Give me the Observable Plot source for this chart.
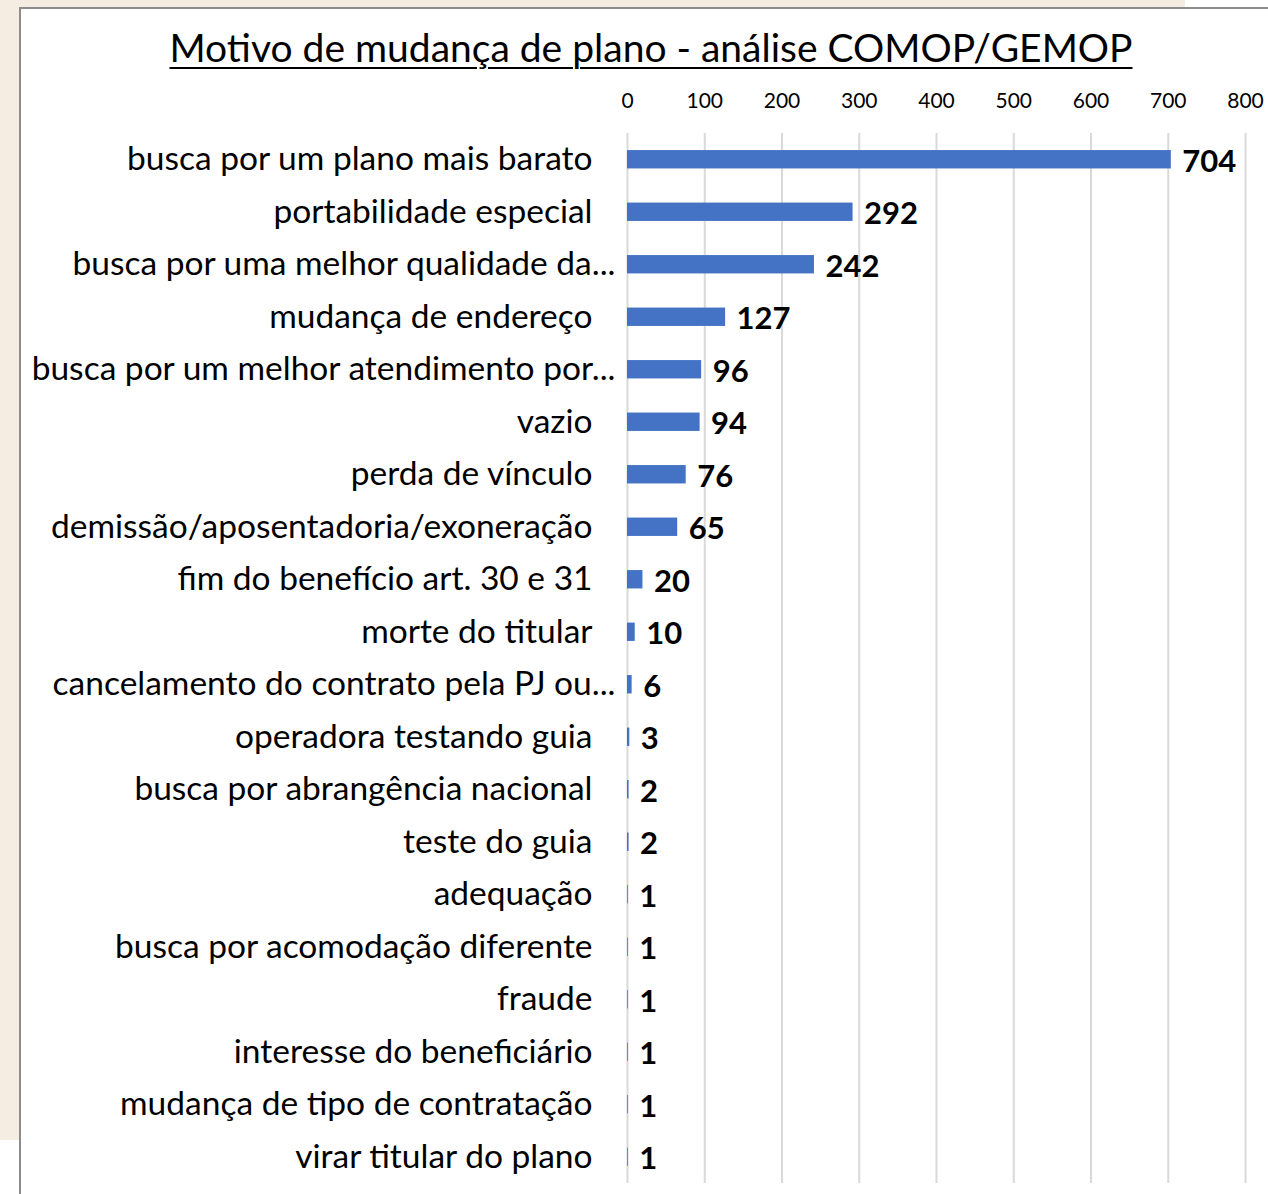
<!DOCTYPE html>
<html><head><meta charset="utf-8">
<script src="https://cdn.jsdelivr.net/npm/d3@7"></script>
<script src="https://cdn.jsdelivr.net/npm/@observablehq/plot@0.6"></script>
<style>
html,body{margin:0;padding:0;background:#fff;width:1268px;height:1194px;overflow:hidden;font-family:Lato,"Open Sans",sans-serif;}
#beige{position:absolute;left:0;top:0;width:1185px;height:1140px;background:#f5ede1;}
#box{position:absolute;left:19px;top:7px;width:1249px;height:1187px;background:#fff;border-left:2px solid #8c8c8c;border-top:2px solid #8c8c8c;}
#title{position:absolute;left:0;width:1260px;top:15px;text-align:center;font-size:39px;line-height:46px;text-decoration:underline;text-decoration-thickness:2px;text-underline-offset:5px;color:#000;}
#chart{position:absolute;left:0;top:0;line-height:0;}
#chart svg{display:block;}
</style></head>
<body>
<div id="beige"></div>
<div id="box"><div id="title">Motivo de mudança de plano - análise COMOP/GEMOP</div><div id="chart"></div></div>
<script>
const categories = [
  "busca por um plano mais barato",
  "portabilidade especial",
  "busca por uma melhor qualidade da...",
  "mudança de endereço",
  "busca por um melhor atendimento por...",
  "vazio",
  "perda de vínculo",
  "demissão/aposentadoria/exoneração",
  "fim do benefício art. 30 e 31",
  "morte do titular",
  "cancelamento do contrato pela PJ ou...",
  "operadora testando guia",
  "busca por abrangência nacional",
  "teste do guia",
  "adequação",
  "busca por acomodação diferente",
  "fraude",
  "interesse do beneficiário",
  "mudança de tipo de contratação",
  "virar titular do plano"
];
const values = [704, 292, 242, 127, 96, 94, 76, 65, 20, 10, 6, 3, 2, 2, 1, 1, 1, 1, 1, 1];
const xTicks = [0, 100, 200, 300, 400, 500, 600, 700, 800];

const data = categories.map((c, i) => ({category: c, value: values[i]}));

const chart = Plot.plot({
  width: 1247,
  height: 1185,
  marginLeft: 606,
  marginRight: 23,
  marginTop: 124,
  marginBottom: 11,
  style: {fontFamily: "Lato, 'Open Sans', sans-serif", color: "#000", background: "transparent"},
  x: {domain: [0, 800]},
  y: {domain: categories, paddingInner: 0.65, paddingOuter: 0.325, round: false, axis: null},
  marks: [
    Plot.gridX(xTicks, {stroke: "#d9d9d9", strokeOpacity: 1, strokeWidth: 2}),
    Plot.axisX({anchor: "top", ticks: xTicks, tickSize: 0, tickPadding: 26, fontSize: 21, label: null, tickFormat: d => String(d)}),
    Plot.barX(data, {x: "value", y: "category", fill: "#4472c4"}),
    Plot.text(data, {x: "value", y: "category", text: d => String(d.value), textAnchor: "start", dx: 11, dy: 2, fontSize: 31, fontWeight: "bold", fill: "#000"}),
    Plot.text(data.filter(d => !d.category.endsWith("...")), {x: 0, y: "category", text: "category", textAnchor: "end", dx: -35, fontSize: 33.5, fill: "#000"}),
    Plot.text(data.filter(d => d.category.endsWith("...")), {x: 0, y: "category", text: "category", textAnchor: "end", dx: -12, fontSize: 33.5, fill: "#000"})
  ]
});
document.getElementById("chart").appendChild(chart);
</script>
</body></html>
